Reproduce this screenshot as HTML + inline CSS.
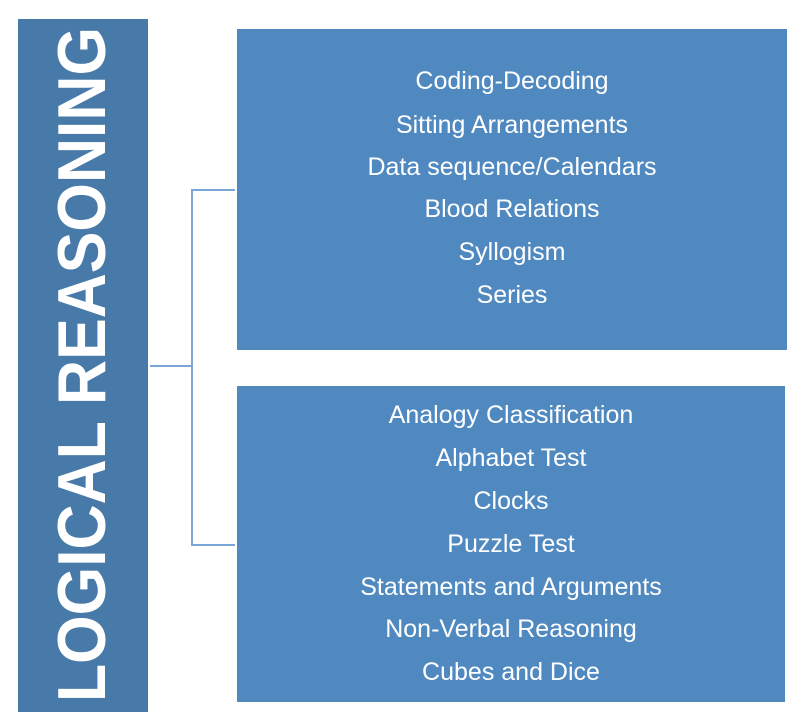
<!DOCTYPE html>
<html><head><style>
body{margin:0;width:801px;height:718px;background:#fff;position:relative;overflow:hidden;font-family:"Liberation Sans",sans-serif}
.box{position:absolute;background:#5089c0;color:#fff}
.t{position:absolute;left:0;right:0;text-align:center;font-size:25px;line-height:26px}
.ln{position:absolute;background:#7aa6d8}
</style></head><body>
<div class="box" style="left:18px;top:19px;width:130px;height:693px;background:#477aa8"></div>
<svg style="position:absolute;left:0;top:0" width="801" height="718">
<text transform="translate(105,702) rotate(-90)" font-family="Liberation Sans" font-weight="bold" font-size="68" fill="#fff" textLength="675" lengthAdjust="spacingAndGlyphs">LOGICAL REASONING</text>
</svg>
<div class="ln" style="left:150px;top:365px;width:43px;height:2px"></div>
<div class="ln" style="left:191px;top:189px;width:2px;height:357px"></div>
<div class="ln" style="left:191px;top:189px;width:44px;height:2px"></div>
<div class="ln" style="left:191px;top:544px;width:44px;height:2px"></div>
<div class="box" style="left:237px;top:29px;width:550px;height:321px">
<div class="t" style="top:39px">Coding-Decoding</div>
<div class="t" style="top:83px">Sitting Arrangements</div>
<div class="t" style="top:125px">Data sequence/Calendars</div>
<div class="t" style="top:167px">Blood Relations</div>
<div class="t" style="top:210px">Syllogism</div>
<div class="t" style="top:253px">Series</div>
</div>
<div class="box" style="left:237px;top:386px;width:548px;height:316px">
<div class="t" style="top:16px">Analogy Classification</div>
<div class="t" style="top:59px">Alphabet Test</div>
<div class="t" style="top:102px">Clocks</div>
<div class="t" style="top:145px">Puzzle Test</div>
<div class="t" style="top:188px">Statements and Arguments</div>
<div class="t" style="top:230px">Non-Verbal Reasoning</div>
<div class="t" style="top:273px">Cubes and Dice</div>
</div>
</body></html>
